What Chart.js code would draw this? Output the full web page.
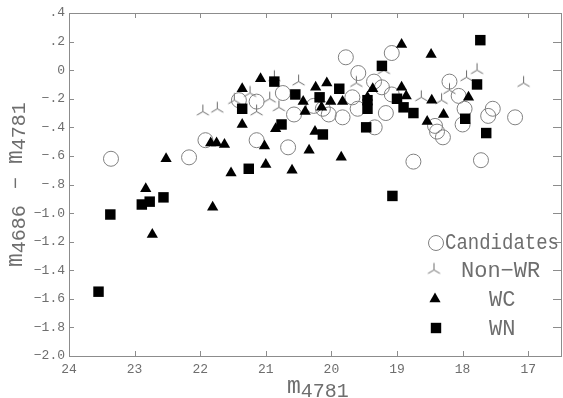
<!DOCTYPE html>
<html>
<head>
<meta charset="utf-8">
<script src="https://cdn.jsdelivr.net/npm/chart.js@4/dist/chart.umd.min.js"></script>
<style>
  html, body { margin: 0; padding: 0; background: #fff; overflow: hidden; }
</style>
</head>
<body>
<canvas id="chart" width="570" height="398"></canvas>
<script>
// m4781 (x) and m4686 - m4781 (y)
const candX = [23.36, 22.17, 21.92, 21.41, 21.14, 21.14, 20.74, 20.66, 20.57, 20.27, 20.13, 20.04, 19.83, 19.78, 19.68, 19.60, 19.59, 19.35, 19.34, 19.23, 19.17, 19.08, 19.08, 18.75, 18.42, 18.39, 18.30, 18.20, 18.06, 17.97, 18.00, 17.72, 17.61, 17.54, 17.20];
const candY = [-0.62, -0.61, -0.49, -0.21, -0.22, -0.49, -0.16, -0.54, -0.31, -0.25, -0.27, -0.31, -0.33, 0.09, -0.19, -0.27, -0.02, -0.08, -0.40, -0.12, -0.30, 0.12, -0.17, -0.64, -0.39, -0.43, -0.47, -0.08, -0.18, -0.27, -0.38, -0.63, -0.32, -0.27, -0.33];

const nonWrX = [21.96, 21.74, 21.48, 21.24, 21.14, 20.94, 20.80, 20.87, 20.50, 19.62, 19.20, 18.63, 18.32, 18.20, 17.94, 17.78, 17.07];
const nonWrY = [-0.29, -0.27, -0.21, -0.16, -0.29, -0.20, -0.26, -0.05, -0.08, -0.09, 0.00, -0.19, -0.21, -0.14, -0.05, 0.00, -0.09];

const wcX = [22.83, 22.73, 22.52, 21.81, 21.84, 21.75, 21.63, 21.53, 21.36, 21.36, 21.08, 21.02, 21.00, 20.85, 20.60, 20.43, 20.40, 20.34, 20.25, 20.24, 20.07, 20.15, 20.01, 19.85, 19.83, 19.37, 19.45, 18.93, 18.48, 18.93, 18.86, 18.47, 18.29, 18.54, 17.91];
const wcY = [-0.83, -1.15, -0.62, -0.96, -0.51, -0.51, -0.52, -0.72, -0.13, -0.38, -0.06, -0.53, -0.66, -0.41, -0.70, -0.22, -0.29, -0.56, -0.43, -0.12, -0.09, -0.26, -0.22, -0.61, -0.22, -0.13, -0.19, 0.18, 0.11, -0.12, -0.18, -0.21, -0.31, -0.36, -0.19];

const wnX = [23.55, 23.37, 22.89, 22.77, 22.56, 21.26, 21.36, 20.87, 20.76, 20.55, 20.18, 19.88, 20.13, 19.23, 19.45, 19.45, 19.47, 19.07, 19.00, 18.90, 18.75, 17.73, 17.78, 17.96, 17.64];
const wnY = [-1.55, -1.01, -0.94, -0.92, -0.89, -0.69, -0.27, -0.08, -0.38, -0.17, -0.19, -0.13, -0.45, 0.03, -0.21, -0.27, -0.40, -0.88, -0.20, -0.26, -0.30, 0.21, -0.10, -0.34, -0.44];

const xTicks = [24, 23, 22, 21, 20, 19, 18, 17];
const yTicks = [0.4, 0.2, 0, -0.2, -0.4, -0.6, -0.8, -1.0, -1.2, -1.4, -1.6, -1.8, -2.0];
const yTickLabels = ['.4', '.2', '0', '\u2212.2', '\u2212.4', '\u2212.6', '\u2212.8', '\u22121.0', '\u22121.2', '\u22121.4', '\u22121.6', '\u22121.8', '\u22122.0'];

const FONT = '"Liberation Mono", "DejaVu Sans Mono", monospace';
const FRAME_COLOR = '#8c8c8c';
const TEXT_COLOR = '#6e6e6e';

function toPoints(xs, ys) {
  return xs.map((x, i) => ({ x, y: ys[i] }));
}

// three-legged marker used for the Non-WR stars
function makeNonWrGlyph() {
  const c = document.createElement('canvas');
  c.width = 17;
  c.height = 17;
  const g = c.getContext('2d');
  g.strokeStyle = '#6a6a6a';
  g.lineWidth = 1;
  g.beginPath();
  g.moveTo(8.5, 8.5); g.lineTo(8.5, 1.5);
  g.moveTo(8.5, 8.5); g.lineTo(2.5, 12);
  g.moveTo(8.5, 8.5); g.lineTo(14.5, 12);
  g.stroke();
  return c;
}

const nonWrGlyph = makeNonWrGlyph();

function drawSymbol(ctx, kind, x, y) {
  ctx.save();
  ctx.beginPath();
  if (kind === 'circle') {
    ctx.strokeStyle = '#808080';
    ctx.lineWidth = 1;
    ctx.arc(x, y, 7.5, 0, Math.PI * 2);
    ctx.stroke();
  } else if (kind === 'triangle') {
    ctx.fillStyle = '#000';
    ctx.moveTo(x, y - 6.5);
    ctx.lineTo(x + 5.6, y + 3.25);
    ctx.lineTo(x - 5.6, y + 3.25);
    ctx.closePath();
    ctx.fill();
  } else if (kind === 'rect') {
    ctx.fillStyle = '#000';
    ctx.fillRect(x - 5.2, y - 5.2, 10.4, 10.4);
  } else {
    ctx.drawImage(nonWrGlyph, x - 8.5, y - 8.5);
  }
  ctx.restore();
}

// frame with inward ticks, axis titles and the legend box
const decorations = {
  id: 'decorations',
  beforeDatasetsDraw(chart) {
    const { ctx, chartArea: a, scales } = chart;
    ctx.save();
    ctx.strokeStyle = FRAME_COLOR;
    ctx.lineWidth = 1;
    ctx.strokeRect(a.left + 0.5, a.top + 0.5, a.right - a.left, a.bottom - a.top);
    ctx.beginPath();
    xTicks.forEach(v => {
      const px = Math.round(scales.x.getPixelForValue(v)) + 0.5;
      ctx.moveTo(px, a.bottom); ctx.lineTo(px, a.bottom - 5);
      ctx.moveTo(px, a.top); ctx.lineTo(px, a.top + 5);
    });
    yTicks.forEach(v => {
      const py = Math.round(scales.y.getPixelForValue(v)) + 0.5;
      ctx.moveTo(a.left, py); ctx.lineTo(a.left + 5, py);
      ctx.moveTo(a.right, py); ctx.lineTo(a.right - 8, py);
    });
    ctx.stroke();
    ctx.restore();
  },
  afterDraw(chart) {
    const { ctx } = chart;
    ctx.save();
    ctx.fillStyle = TEXT_COLOR;
    ctx.textBaseline = 'alphabetic';
    ctx.textAlign = 'left';

    // x title: m_4781
    ctx.font = '23px ' + FONT;
    ctx.fillText('m', 287, 393);
    const mw = ctx.measureText('m').width;
    ctx.font = '20px ' + FONT;
    ctx.fillText('4781', 287 + mw, 397);

    // y title: m_4686 - m_4781
    ctx.save();
    ctx.translate(22, 267);
    ctx.rotate(-Math.PI / 2);
    ctx.font = '23px ' + FONT;
    ctx.fillText('m', 0, 0);
    ctx.font = '20px ' + FONT;
    ctx.fillText('4686', mw, 3);
    ctx.fillText('\u2212', 78, 0);
    ctx.font = '23px ' + FONT;
    ctx.fillText('m', 103, 0);
    ctx.font = '20px ' + FONT;
    ctx.fillText('4781', 103 + mw, 3);
    ctx.restore();

    // legend
    drawSymbol(ctx, 'circle', 436, 243);
    drawSymbol(ctx, 'star', 434, 270);
    drawSymbol(ctx, 'triangle', 435, 299);
    drawSymbol(ctx, 'rect', 436, 328);
    ctx.font = '22px ' + FONT;
    ctx.fillText('Candidates', 445, 249, 114);
    ctx.fillText('Non\u2212WR', 461, 277);
    ctx.fillText('WC', 489, 306);
    ctx.fillText('WN', 489, 335);
    ctx.restore();
  }
};

new Chart(document.getElementById('chart'), {
  type: 'scatter',
  data: {
    datasets: [
      {
        label: 'WN',
        data: toPoints(wnX, wnY),
        pointStyle: 'rect',
        pointRadius: 7.4,
        backgroundColor: '#000',
        borderColor: '#000',
        borderWidth: 0,
        order: 0
      },
      {
        label: 'WC',
        data: toPoints(wcX, wcY),
        pointStyle: 'triangle',
        pointRadius: 6.5,
        backgroundColor: '#000',
        borderColor: '#000',
        borderWidth: 0,
        order: 1
      },
      {
        label: 'Candidates',
        data: toPoints(candX, candY),
        pointStyle: 'circle',
        pointRadius: 7.5,
        backgroundColor: 'rgba(0,0,0,0)',
        borderColor: '#808080',
        borderWidth: 1,
        order: 2
      },
      {
        label: 'Non-WR',
        data: toPoints(nonWrX, nonWrY),
        pointStyle: nonWrGlyph,
        pointRadius: 8,
        order: 3
      }
    ]
  },
  options: {
    responsive: false,
    animation: false,
    events: [],
    layout: { padding: { top: 13, right: 1, left: 0, bottom: 0 } },
    plugins: {
      legend: { display: false },
      tooltip: { enabled: false }
    },
    scales: {
      x: {
        type: 'linear',
        reverse: true,
        min: 16.5,
        max: 24,
        grid: { display: false, drawTicks: false },
        border: { display: false },
        afterBuildTicks: s => { s.ticks = xTicks.map(v => ({ value: v })); },
        afterFit: s => { s.height = 42; },
        ticks: {
          padding: 6,
          autoSkip: false,
          maxRotation: 0,
          color: TEXT_COLOR,
          font: { family: FONT, size: 13 }
        }
      },
      y: {
        type: 'linear',
        min: -2,
        max: 0.4,
        grid: { display: false, drawTicks: false },
        border: { display: false },
        afterBuildTicks: s => { s.ticks = yTicks.slice().reverse().map(v => ({ value: v })); },
        afterFit: s => { s.width = 69; },
        ticks: {
          padding: 4,
          autoSkip: false,
          color: TEXT_COLOR,
          font: { family: FONT, size: 13 },
          callback: v => yTickLabels[yTicks.findIndex(t => Math.abs(t - v) < 1e-6)]
        }
      }
    }
  },
  plugins: [decorations]
});
</script>
</body>
</html>
